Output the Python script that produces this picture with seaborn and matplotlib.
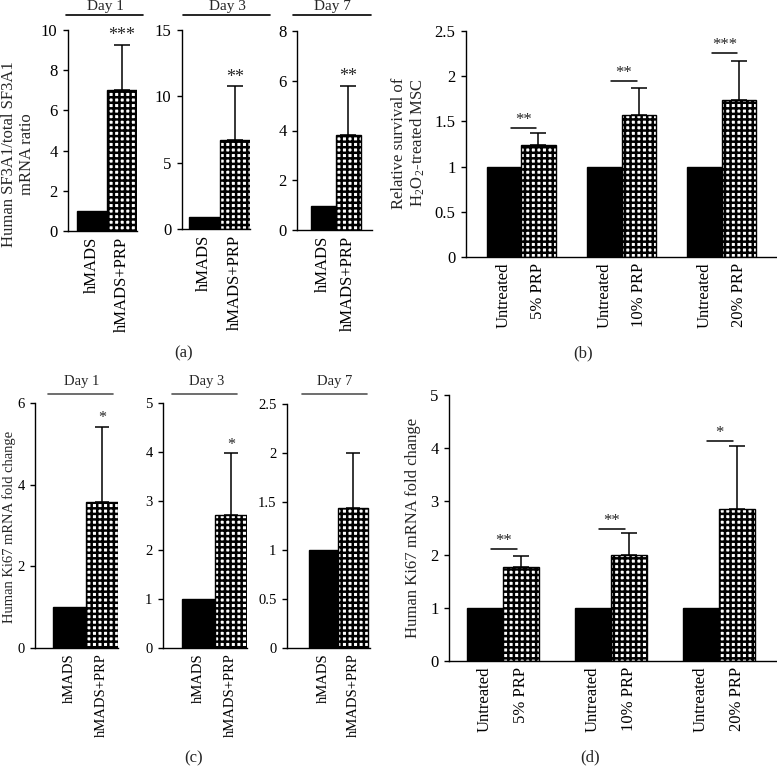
import matplotlib
matplotlib.use("Agg")
import matplotlib.pyplot as plt
from matplotlib.lines import Line2D
from matplotlib.ticker import FuncFormatter
import pandas as pd
import seaborn as sns

W, H = 777, 780

# (a) human SF3A1 / total SF3A1 mRNA ratio
PAIR_LABELS = ["hMADS", "hMADS+PRP"]
A_DAYS = ["Day 1", "Day 3", "Day 7"]
A_MEANS = [[1.0, 7.0], [0.9, 6.7], [0.98, 3.8]]
A_UPPER = [9.25, 10.75, 5.8]
A_STARS = ["***", "**", "**"]
A_YTICKS = [[0, 2, 4, 6, 8, 10], [0, 5, 10, 15], [0, 2, 4, 6, 8]]

# (b) relative survival of H2O2-treated MSC
GROUPS = ["5%", "10%", "20%"]
CONDS = ["Untreated", "PRP"]
B_UNTREATED = [1.0, 1.0, 1.0]
B_PRP = [1.24, 1.57, 1.74]
B_UPPER = [1.37, 1.87, 2.17]
B_SIG = [1.43, 1.95, 2.26]
B_STARS = ["**", "**", "***"]
B_YTICKS = [0, 0.5, 1, 1.5, 2, 2.5]
GROUP_TICKLABELS = ["Untreated", "5% PRP", "Untreated", "10% PRP", "Untreated", "20% PRP"]

# (c) human Ki67 mRNA fold change, per day
C_DAYS = ["Day 1", "Day 3", "Day 7"]
C_MEANS = [[1.0, 3.58], [1.0, 2.71], [1.0, 1.43]]
C_UPPER = [5.42, 3.97, 2.0]
C_STARS = ["*", "*", ""]
C_YTICKS = [[0, 2, 4, 6], [0, 1, 2, 3, 4, 5], [0, 0.5, 1, 1.5, 2, 2.5]]

# (d) human Ki67 mRNA fold change, PRP doses
D_UNTREATED = [1.0, 1.0, 1.0]
D_PRP = [1.77, 1.99, 2.86]
D_UPPER = [1.97, 2.4, 4.04]
D_SIG = [2.1, 2.48, 4.14]
D_STARS = ["**", "**", "*"]
D_YTICKS = [0, 1, 2, 3, 4, 5]

sns.set_theme(style="ticks")
plt.rcParams["font.family"] = ["Liberation Serif", "DejaVu Serif"]
plt.rcParams["mathtext.fontset"] = "stix"
plt.rcParams["hatch.linewidth"] = 1.8
plt.rcParams["axes.linewidth"] = 1.0

HATCH = "+++"
fmt = FuncFormatter(lambda v, _: f"{v:g}")

fig = plt.figure(figsize=(W / 100, H / 100), dpi=100)


def add_box(l, r, t, b):
    return fig.add_axes([l / W, 1 - b / H, (r - l) / W, (b - t) / H])


def style(ax, yticks, xlim, fs):
    sns.despine(ax=ax)
    ax.set_ylim(0, yticks[-1])
    ax.set_yticks(yticks)
    ax.yaxis.set_major_formatter(fmt)
    ax.set_xlim(*xlim)
    ax.set_xlabel("")
    ax.set_ylabel("")
    ax.tick_params(axis="y", length=3.5, width=1, pad=4, labelsize=fs, colors="black")
    ax.tick_params(axis="x", length=0, pad=4, labelsize=fs, labelrotation=90, colors="black")
    for s in ax.spines.values():
        s.set_color("black")


def draw_pair(ax, means, upper, star, yticks, xlim, fs, cap):
    df = pd.DataFrame({"cond": PAIR_LABELS, "value": means})
    sns.barplot(df, x="cond", y="value", hue="cond", palette=["black", "white"],
                width=1.0, saturation=1, errorbar=None, legend=False, ax=ax,
                edgecolor="black", linewidth=1.0)
    ax.patches[1].set_hatch(HATCH)
    ax.errorbar([1], [means[1]], yerr=[[0], [upper - means[1]]], fmt="none",
                ecolor="black", elinewidth=1.1, capsize=cap, capthick=1.1)
    if star:
        ax.annotate(star, xy=(1, upper), xytext=(0, 0.5), textcoords="offset points",
                    ha="center", va="bottom", fontsize=fs + 1)
    style(ax, yticks, xlim, fs)


def draw_groups(ax, untreated, prp, upper, sig, stars, yticks, xlim, width, span, cap):
    df = pd.DataFrame({
        "group": GROUPS * 2,
        "cond": [CONDS[0]] * 3 + [CONDS[1]] * 3,
        "value": list(untreated) + list(prp),
    })
    sns.barplot(df, x="group", y="value", hue="cond", palette=["black", "white"],
                width=width, gap=0, saturation=1, errorbar=None, legend=False, ax=ax,
                edgecolor="black", linewidth=1.0)
    bars = list(ax.patches)
    centers = [p.get_x() + p.get_width() / 2 for p in bars]
    for p in bars[3:]:
        p.set_hatch(HATCH)
    prp_x = centers[3:]
    ax.errorbar(prp_x, prp, yerr=[[0] * 3, [u - m for u, m in zip(upper, prp)]],
                fmt="none", ecolor="black", elinewidth=1.1, capsize=cap, capthick=1.1)
    for i, (h, s) in enumerate(zip(sig, stars)):
        ax.plot([i + span[0], i + span[1]], [h, h], color="black", lw=1.1)
        ax.text(i + (span[0] + span[1]) / 2, h, s, ha="center", va="bottom", fontsize=12)
    order = sorted(range(6), key=lambda k: centers[k])
    style(ax, yticks, xlim, 12)
    ax.set_xticks([centers[k] for k in order])
    ax.set_xticklabels(GROUP_TICKLABELS)


def heading(text, x0, x1, y_line, xc, y_text, fs, color="black"):
    fig.add_artist(Line2D([x0 / W, x1 / W], [1 - y_line / H] * 2, color=color,
                          lw=1.2, transform=fig.transFigure))
    fig.text(xc / W, 1 - y_text / H, text, ha="center", va="baseline", fontsize=fs)


# ---- (a)
A_BOXES = [(68, 137, 30, 231), (182, 250, 30, 229), (297, 372, 31, 230)]
A_XLIM = [(-0.8, 1.5), (-0.73, 1.5), (-1.05, 1.95)]
A_HEAD = [(66, 143, 105), (183, 270, 227), (293, 371, 332)]
for i in range(3):
    ax = add_box(*A_BOXES[i])
    draw_pair(ax, A_MEANS[i], A_UPPER[i], A_STARS[i], A_YTICKS[i], A_XLIM[i], 12, 5.5)
    x0, x1, xc = A_HEAD[i]
    heading(A_DAYS[i], x0, x1, 15, xc, 10, 11)
fig.text(18 / W, 1 - 154 / H, "Human SF3A1/total SF3A1\nmRNA ratio", rotation=90,
         ha="center", va="center", fontsize=12, linespacing=1.15)
fig.text(184 / W, 1 - 353 / H, "(a)", ha="center", va="center", fontsize=12)

# ---- (b)
ax = add_box(466, 777, 31, 257)
draw_groups(ax, B_UNTREATED, B_PRP, B_UPPER, B_SIG, B_STARS, B_YTICKS,
            (-0.55, 2.55), 0.69, (-0.1, 0.15), 6)
fig.text(409 / W, 1 - 143 / H,
         "Relative survival of\nH$_\\mathregular{2}$O$_\\mathregular{2}$-treated MSC",
         rotation=90, ha="center", va="center", fontsize=12, linespacing=1.1)
fig.text(583 / W, 1 - 353 / H, "(b)", ha="center", va="center", fontsize=12)

# ---- (c)
C_BOXES = [(35, 118, 403, 648), (163, 247, 403, 648), (287, 370, 404, 648)]
C_XLIM = [(-1.06, 1.5), (-1.1, 1.5), (-1.23, 1.57)]
C_HEAD = [(48, 113, 82), (172, 237, 207), (302, 367, 335)]
for i in range(3):
    ax = add_box(*C_BOXES[i])
    draw_pair(ax, C_MEANS[i], C_UPPER[i], C_STARS[i], C_YTICKS[i], C_XLIM[i], 10.5, 5)
    x0, x1, xc = C_HEAD[i]
    heading(C_DAYS[i], x0, x1, 394, xc, 385, 10.5, color="#555555")
fig.text(9 / W, 1 - 527 / H, "Human Ki67 mRNA fold change", rotation=90,
         ha="center", va="center", fontsize=10.5)
fig.text(194 / W, 1 - 758 / H, "(c)", ha="center", va="center", fontsize=12)

# ---- (d)
ax = add_box(449, 777, 395, 661)
draw_groups(ax, D_UNTREATED, D_PRP, D_UPPER, D_SIG, D_STARS, D_YTICKS,
            (-0.5, 2.54), 0.667, (-0.11, 0.13), 5.5)
fig.text(413 / W, 1 - 528 / H, "Human Ki67 mRNA fold change", rotation=90,
         ha="center", va="center", fontsize=12)
fig.text(590 / W, 1 - 757 / H, "(d)", ha="center", va="center", fontsize=12)

fig.savefig("out.png", dpi=100)
